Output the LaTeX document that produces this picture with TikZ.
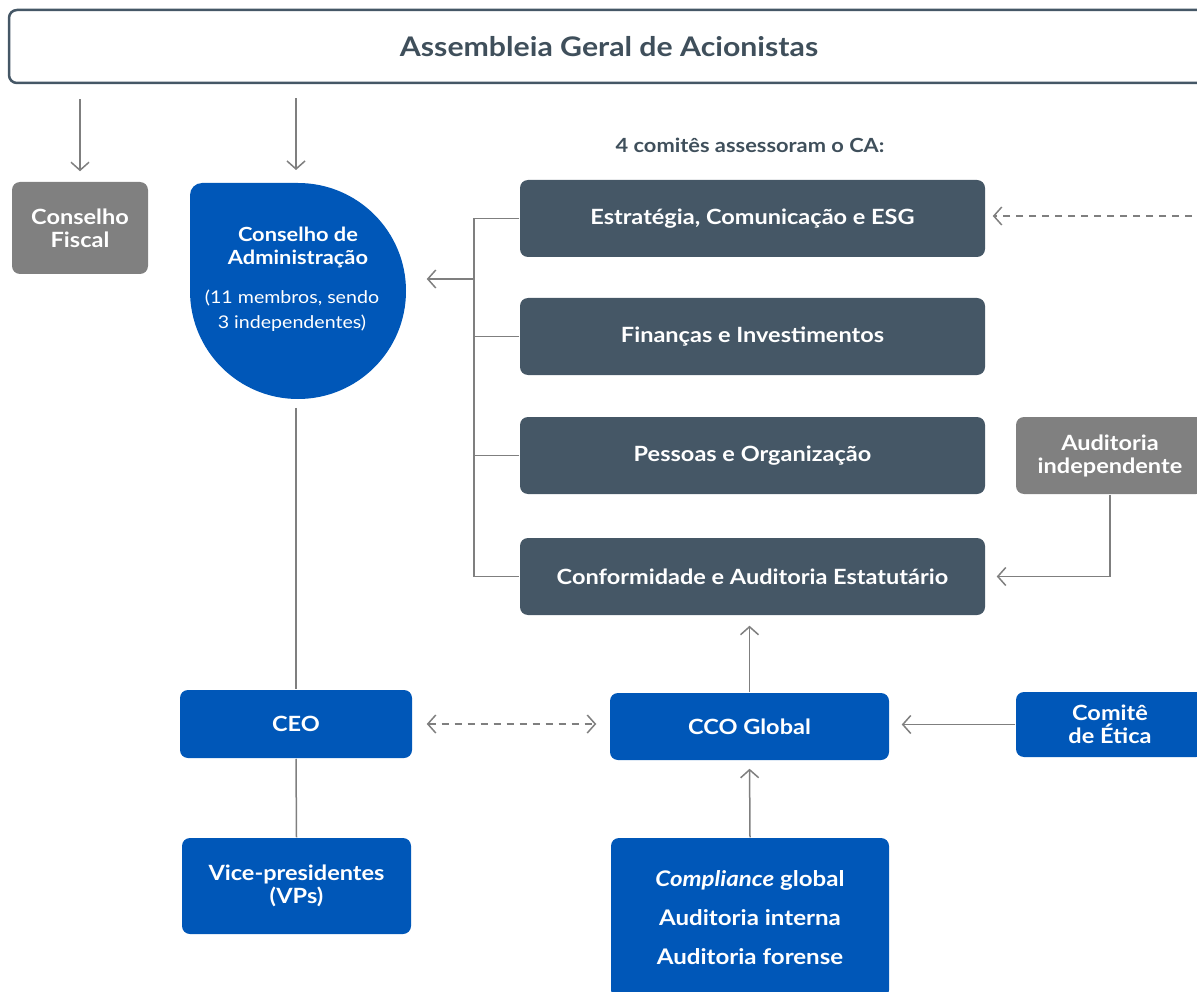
\documentclass[tikz,border=0pt]{standalone}
\usepackage{fontspec}
\setmainfont{Lato}[FakeStretch=1.12]
\usetikzlibrary{arrows.meta,positioning}

\definecolor{cablue}{HTML}{0057B8}
\definecolor{slate}{HTML}{455766}
\definecolor{boxgray}{HTML}{808080}
\definecolor{linegray}{HTML}{7F7F7F}
\definecolor{textdark}{HTML}{3F4F5B}

\begin{document}
\begin{tikzpicture}[
    x = 1pt, y = -1pt, % pixel grid, y downwards
    > = {Straight Barb[length=8pt,width=18pt]}, % open arrow head
    line width = 1.5pt,
    box/.style = {rounded corners=8pt, text=white, align=center,
                  font=\fontsize{21}{23}\selectfont\bfseries},
    bluebox/.style = {box, fill=cablue},
    graybox/.style = {box, fill=boxgray},
    combox/.style = {box, fill=slate, minimum width=465pt, minimum height=77pt},
    link/.style = {draw=linegray},
    arr/.style = {link, ->},
    dasharr/.style = {arr, dash pattern=on 7pt off 6pt}
    ]

    \useasboundingbox (0,0) rectangle (1197,992);
    \clip (0,0) rectangle (1197,992);

    % top
    \node[draw=slate, line width=2.5pt, rounded corners=8pt, fill=white,
          minimum width=1200pt, minimum height=73pt, text=textdark,
          font=\fontsize{27}{30}\selectfont\bfseries] (agm) at (609,46.5)
          {Assembleia Geral de Acionistas};

    \node[graybox, minimum width=136pt, minimum height=92pt] (cf) at (80,228)
          {Conselho\\Fiscal};

    % conselho de administracao
    \fill[cablue] (190,291) -- (190,195) arc[start angle=180, end angle=270, radius=12]
          -- (298,183) arc[start angle=-90, end angle=180, radius=108] -- cycle;
    \node[minimum size=216pt, inner sep=0pt] (ca) at (298,291) {};
    \node[text=white, align=center, font=\fontsize{19.5}{23}\selectfont\bfseries]
          (catitle) at (298,247) {Conselho de\\Administração};
    \node[text=white, align=center, font=\fontsize{17.5}{25}\selectfont]
          (camembers) at (292,311) {(11 membros, sendo\\3 independentes)};

    % comites
    \node[text=textdark, font=\fontsize{19.5}{21}\selectfont\bfseries] (comhead)
          at (750,145) {4 comitês assessoram o CA:};
    \node[combox] (est)  at (752.5,218.5) {Estratégia, Comunicação e ESG};
    \node[combox] (fin)  at (752.5,336.5) {Finanças e Investimentos};
    \node[combox] (pes)  at (752.5,455.5) {Pessoas e Organização};
    \node[combox] (conf) at (752.5,576.5) {Conformidade e Auditoria Estatutário};

    \node[graybox, minimum width=188pt, minimum height=77pt] (audind) at (1110,455.5)
          {Auditoria\\independente};

    % gestao
    \node[bluebox, minimum width=232pt, minimum height=68pt] (ceo) at (296,724) {CEO};
    \node[bluebox, minimum width=279pt, minimum height=67pt] (cco) at (749.5,726.5)
          {CCO Global};
    \node[bluebox, minimum width=188pt, minimum height=65pt] (etica) at (1110,724.5)
          {Comitê\\de Ética};
    \node[bluebox, minimum width=229pt, minimum height=96pt] (vp) at (296.5,886)
          {Vice-presidentes\\(VPs)};
    \node[bluebox, minimum width=278pt, minimum height=160pt,
          font=\fontsize{21.5}{39}\selectfont\bfseries] (comp) at (750,918)
          {\textit{Compliance} global\\Auditoria interna\\Auditoria forense};

    \coordinate (br) at (474,279);
    \coordinate (esgsrc) at (1205,216);

    \draw[arr, shorten <=15pt, shorten >=10pt] (agm.south -| cf.north) -- (cf.north);
    \draw[arr, shorten <=14pt, shorten >=13pt] (agm.south -| 296,0) -- (296,183);
    \draw[link] (est.west) -| (br) |- (conf.west);
    \draw[link] (fin.west) -- (fin.west -| br);
    \draw[link] (pes.west) -- (pes.west -| br);
    \draw[arr, shorten >=20pt] (br) -- (br -| ca.east);
    \draw[dasharr, shorten >=7pt] (esgsrc) -- (esgsrc -| est.east);
    \draw[arr, shorten >=11pt] (audind.south) |- (conf.east);
    \draw[arr, shorten >=10pt] (cco.north) -- (cco.north |- conf.south);
    \draw[dasharr, <->, shorten <=14pt, shorten >=13pt] (ceo.east) -- (ceo.east -| cco.west);
    \draw[arr, shorten >=12pt] (etica.west) -- (etica.west -| cco.east);
    \draw[arr, shorten >=8pt] (comp.north) -- (cco.south);
    \draw[link, shorten <=8pt] (ceo.north |- ca.south) -- (ceo.north);
    \draw[link] (ceo.south) -- (vp.north);
\end{tikzpicture}
\end{document}
